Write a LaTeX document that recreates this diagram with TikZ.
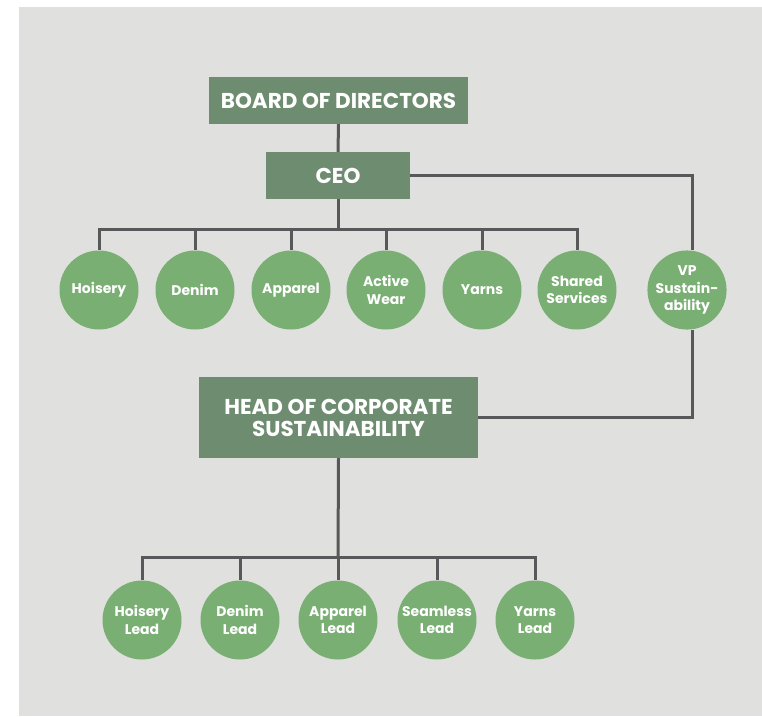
\documentclass[tikz,border=0pt]{standalone}
\usepackage{fontspec}
\setmainfont{Poppins}
\definecolor{boxgreen}{HTML}{6E8C6F}
\definecolor{circgreen}{HTML}{7AAF74}
\definecolor{panel}{HTML}{E0E0DE}
\definecolor{linegrey}{HTML}{58585A}
\begin{document}
\begin{tikzpicture}[x=1pt,y=-1pt,
  box/.style={rectangle, fill=boxgreen, text=white, inner sep=0pt, align=center,
    font=\bfseries\fontsize{21.5}{22}\selectfont},
  unit/.style={circle, fill=circgreen, minimum size=79pt, inner sep=0pt, text=white,
    align=center, font=\bfseries\fontsize{14}{17.5}\selectfont},
  link/.style={draw=linegrey, line width=3pt}]
\useasboundingbox (0,0) rectangle (762,716);
\fill[white] (0,0) rectangle (762,716);
\fill[panel] (19,7) rectangle (762,716);

% top of the chart
\node[box, minimum width=259pt, minimum height=47pt] (board) at (338.5,100.5) {BOARD OF DIRECTORS};
\node[box, minimum width=144pt, minimum height=47pt] (ceo) at (338,175.5) {CEO};

% business units
\node[unit] (hoisery) at (99,290) {Hoisery};
\node[unit] (denim)   at (195,290) {Denim};
\node[unit] (apparel) at (291,290) {Apparel};
\node[unit] (active)  at (386,290) {Active\\Wear};
\node[unit] (yarns)   at (482,290) {Yarns};
\node[unit] (shared)  at (577,290) {Shared\\Services};
\node[unit] (vp)      at (687,290) {VP\\Sustain-\\ability};

% sustainability office
\node[box, minimum width=279pt, minimum height=81pt] (head) at (338.5,417.5)
  {HEAD OF CORPORATE\\SUSTAINABILITY};

% sustainability leads
\node[unit] (lhoisery) at (142,620) {Hoisery\\Lead};
\node[unit] (ldenim)   at (240,620) {Denim\\Lead};
\node[unit] (lapparel) at (338,620) {Apparel\\Lead};
\node[unit] (lseam)    at (437,620) {Seamless\\Lead};
\node[unit] (lyarns)   at (535,620) {Yarns\\Lead};

% connectors
\coordinate (ubar) at (338,229);
\coordinate (lbar) at (338,557);
\draw[link] (board.south) -- (ceo.north);
\draw[link] (ceo.south) -- (ubar);
\foreach \n in {hoisery,denim,apparel,active,yarns,shared}
  \draw[link] (ubar) -| (\n.north);
\draw[link] (ceo.east) -| ([xshift=5pt]vp.north);
\draw[link] ([xshift=5pt]vp.south) |- (head.east);
\draw[link] (head.south) -- (lbar);
\foreach \n in {lhoisery,ldenim,lapparel,lseam,lyarns}
  \draw[link] (lbar) -| (\n.north);
\end{tikzpicture}
\end{document}
